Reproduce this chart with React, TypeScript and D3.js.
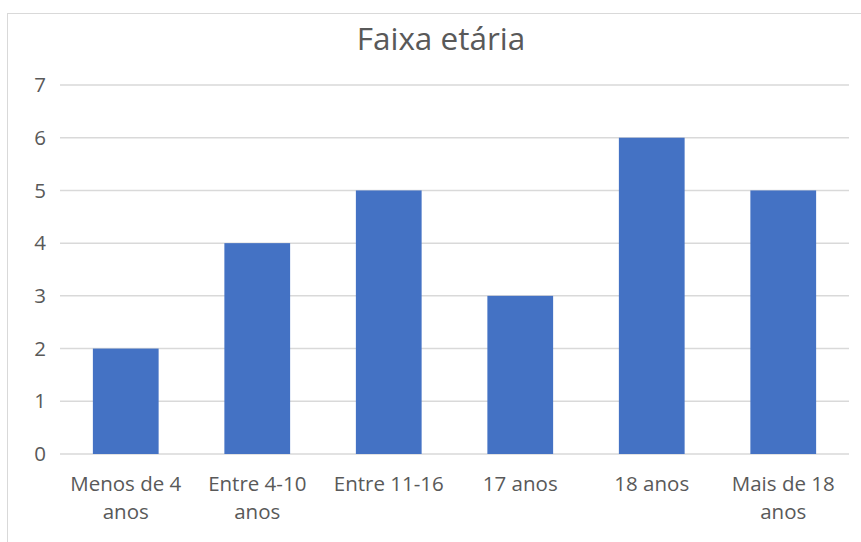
import React from "react";
import * as d3 from "d3";

const categories: string[][] = [
  ["Menos de 4", "anos"],
  ["Entre 4-10", "anos"],
  ["Entre 11-16"],
  ["17 anos"],
  ["18 anos"],
  ["Mais de 18", "anos"],
];
const values: number[] = [2, 4, 5, 3, 6, 5];
const yTicks: number[] = [0, 1, 2, 3, 4, 5, 6, 7];
const title = "Faixa etária";

const W = 861;
const H = 542;
const FONT = "'Open Sans', 'Noto Sans', sans-serif";

export default function App() {
  const x = d3
    .scaleBand<number>()
    .domain(values.map((_, i) => i))
    .range([60, 849])
    .paddingInner(0.5)
    .paddingOuter(0.25);
  const y = d3.scaleLinear().domain([0, 7]).range([454, 85]);

  return (
    <svg
      width={W}
      height={H}
      style={{ position: "absolute", left: 0, top: 0 }}
    >
      <rect x={0} y={0} width={W} height={H} fill="#fff" />
      <rect
        x={7.5}
        y={13.5}
        width={W + 10}
        height={H + 10}
        fill="#fff"
        stroke="#d9d9d9"
        strokeWidth={1}
      />
      <text
        x={441}
        y={50}
        textAnchor="middle"
        fontFamily={FONT}
        fontSize={31.5}
        fill="#595959"
      >
        {title}
      </text>
      {yTicks.map((t) => (
        <g key={t}>
          <line
            x1={60}
            x2={849}
            y1={y(t)}
            y2={y(t)}
            stroke="#d9d9d9"
            strokeWidth={1.5}
          />
          <text
            x={46}
            y={y(t)}
            dy="0.35em"
            textAnchor="end"
            fontFamily={FONT}
            fontSize={20.5}
            fill="#595959"
          >
            {t}
          </text>
        </g>
      ))}
      {values.map((v, i) => (
        <rect
          key={i}
          x={x(i)}
          y={y(v)}
          width={x.bandwidth()}
          height={y(0) - y(v)}
          fill="#4472c4"
        />
      ))}
      {categories.map((lines, i) => (
        <text
          key={i}
          x={(x(i) as number) + x.bandwidth() / 2}
          y={491}
          textAnchor="middle"
          fontFamily={FONT}
          fontSize={20.5}
          fill="#595959"
        >
          {lines.map((l, j) => (
            <tspan
              key={j}
              x={(x(i) as number) + x.bandwidth() / 2}
              dy={j === 0 ? 0 : 28}
            >
              {l}
            </tspan>
          ))}
        </text>
      ))}
    </svg>
  );
}
